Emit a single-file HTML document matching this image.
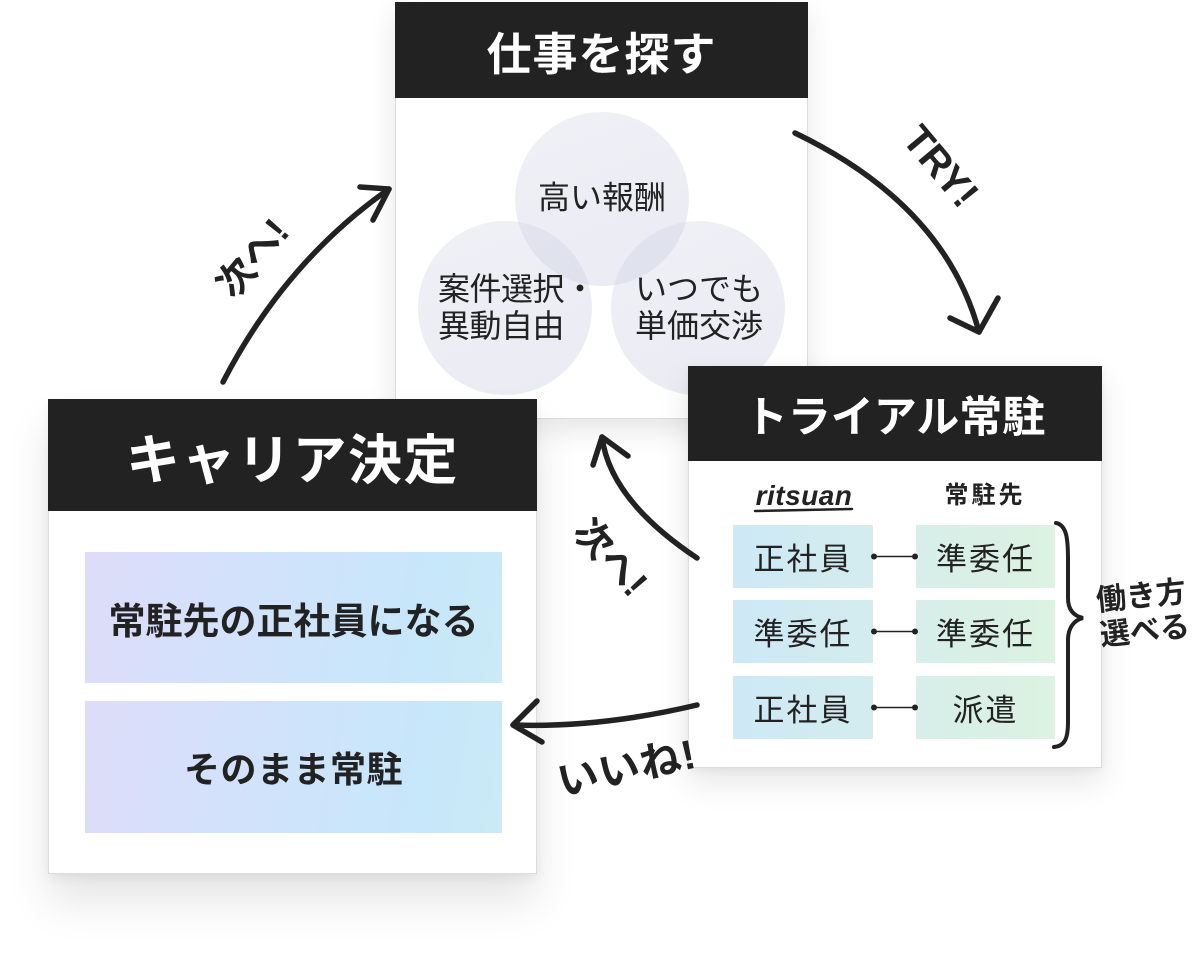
<!DOCTYPE html>
<html><head><meta charset="utf-8">
<style>
*{margin:0;padding:0;box-sizing:border-box}
body{width:1200px;height:958px;background:#fff;position:relative;overflow:hidden;font-family:"Liberation Sans","Noto Sans CJK JP",sans-serif;color:#222}
.a{position:absolute}
.card{position:absolute;background:#fff;border:1px solid #dcdcdc}
.hd{position:absolute;background:#222;color:#fff;font-weight:700;display:flex;align-items:center;justify-content:center;white-space:nowrap}
.circ{position:absolute;border-radius:50%;background:linear-gradient(160deg,rgba(200,203,224,.28),rgba(196,200,222,.36));}
.ct{position:absolute;transform:translate(-50%,-50%);font-size:32px;line-height:37px;text-align:center;white-space:nowrap;color:#222}
.tb{position:absolute;display:flex;align-items:center;justify-content:center;font-size:31px;letter-spacing:2px;white-space:nowrap}
.l{background:linear-gradient(90deg,#cde9f6,#d4ecee)}
.r{background:linear-gradient(90deg,#d7eeea,#dcf2e2)}
.cb{position:absolute;display:flex;align-items:center;justify-content:center;font-weight:700;font-size:36px;white-space:nowrap;background:linear-gradient(100deg,#dedcf9 0%,#d0e3fb 45%,#c7e7fa 80%,#cbeaf6 100%)}
.rt{position:absolute;transform:translate(-50%,-50%);font-weight:700;white-space:nowrap;color:#222}
</style></head><body>

<!-- top card -->
<div class="card" style="left:395px;top:2px;width:413px;height:417px;z-index:1;box-shadow:0 12px 26px rgba(0,0,0,.10)"></div>
<div class="hd" style="left:395px;top:2px;width:413px;height:96px;z-index:2;font-size:45px;letter-spacing:1px">仕事を探す</div>
<div class="circ" style="left:515px;top:112px;width:174px;height:174px;z-index:2"></div>
<div class="circ" style="left:418px;top:221px;width:174px;height:174px;z-index:2"></div>
<div class="circ" style="left:611px;top:221px;width:174px;height:174px;z-index:2"></div>
<div class="ct" style="left:602px;top:198px;z-index:3">高い報酬</div>
<div class="a" style="left:438px;top:271px;z-index:3;font-size:32px;line-height:37px;text-align:left;white-space:nowrap;letter-spacing:-0.5px">案件選択・<br>異動自由</div>
<div class="ct" style="left:699px;top:308px;z-index:3">いつでも<br>単価交渉</div>

<!-- career card -->
<div class="card" style="left:48px;top:399px;width:489px;height:475px;z-index:4;box-shadow:0 28px 40px rgba(0,0,0,.10),0 4px 10px rgba(0,0,0,.06)"></div>
<div class="hd" style="left:48px;top:399px;width:489px;height:112px;z-index:5;font-size:54px;letter-spacing:1.5px">キャリア決定</div>
<div class="cb" style="left:85px;top:552px;width:417px;height:131px;z-index:5;font-size:37px">常駐先の正社員になる</div>
<div class="cb" style="left:85px;top:701px;width:417px;height:132px;z-index:5;letter-spacing:0.5px">そのまま常駐</div>

<!-- trial card -->
<div class="card" style="left:688px;top:366px;width:414px;height:402px;z-index:4;box-shadow:0 14px 30px rgba(0,0,0,.10),0 2px 8px rgba(0,0,0,.05)"></div>
<div class="hd" style="left:688px;top:366px;width:414px;height:95px;z-index:5;font-size:43px">トライアル常駐</div>
<div class="a" style="left:752px;top:480px;width:104px;text-align:center;z-index:5;font-family:'Liberation Sans',sans-serif;font-weight:700;font-style:italic;font-size:28px;letter-spacing:0.5px;line-height:32px">ritsuan</div>
<div class="a" style="left:938px;top:482px;width:94px;text-align:center;z-index:5;font-weight:700;font-size:24px;letter-spacing:3px;line-height:28px">常駐先</div>

<div class="tb l" style="left:733px;top:525px;width:140px;height:63px;z-index:5">正社員</div>
<div class="tb l" style="left:733px;top:600px;width:140px;height:63px;z-index:5">準委任</div>
<div class="tb l" style="left:733px;top:676px;width:140px;height:63px;z-index:5">正社員</div>
<div class="tb r" style="left:916px;top:525px;width:139px;height:63px;z-index:5">準委任</div>
<div class="tb r" style="left:916px;top:600px;width:139px;height:63px;z-index:5">準委任</div>
<div class="tb r" style="left:916px;top:676px;width:139px;height:63px;z-index:5">派遣</div>

<div class="rt" style="left:1143px;top:614px;z-index:6;font-size:30px;line-height:35px;transform:translate(-50%,-50%) rotate(-6deg)">働き方<br>選べる</div>

<!-- labels -->
<div class="rt" style="left:250px;top:256px;z-index:6;font-size:38px;transform:translate(-50%,-50%) rotate(-50deg)">次へ!</div>
<div class="rt" style="left:940px;top:167px;z-index:6;font-size:40px;font-family:'Liberation Sans',sans-serif;transform:translate(-50%,-50%) rotate(50deg)">TRY!</div>
<div class="rt" style="left:613px;top:555px;z-index:6;font-size:38px;transform:translate(-50%,-50%) rotate(48deg)">次へ!</div>
<div class="rt" style="left:626px;top:764px;z-index:6;font-size:41px;letter-spacing:1px;transform:translate(-50%,-50%) rotate(-12deg)">いいね!</div>

<svg class="a" style="left:0;top:0;z-index:7" width="1200" height="958" viewBox="0 0 1200 958">
<g fill="none" stroke="#222" stroke-width="5.5" stroke-linecap="round" stroke-linejoin="round">
<path d="M223,382 Q285,262 389,189"/>
<path d="M360,187 L389,189 L373,220"/>
<path d="M795,133 Q945,205 979,332"/>
<path d="M950,318 L979,332 L998,298"/>
<path d="M697,558 Q610,500 602,437"/>
<path d="M593,465 L602,437 L628,456"/>
<path d="M697,705 Q600,728 513,725"/>
<path d="M537,701 L513,725 L542,742"/>
</g>
<path d="M1056,523 C1067,525 1068,540 1068,560 L1068,598 C1068,610 1074,616 1083,618 C1074,620 1068,628 1068,640 L1068,722 C1068,740 1064,746 1054,747" fill="none" stroke="#222" stroke-width="4" stroke-linecap="round"/>
<path d="M755,511 L852,509" stroke="#222" stroke-width="2.5" stroke-linecap="round"/>
<g stroke="#222" stroke-width="1.6"><line x1="874" y1="556.5" x2="915" y2="556.5"/><line x1="874" y1="631.5" x2="915" y2="631.5"/><line x1="874" y1="707.5" x2="915" y2="707.5"/></g>
<g fill="#222"><circle cx="874" cy="556.5" r="3"/><circle cx="915" cy="556.5" r="3"/><circle cx="874" cy="631.5" r="3"/><circle cx="915" cy="631.5" r="3"/><circle cx="874" cy="707.5" r="3"/><circle cx="915" cy="707.5" r="3"/></g>
</svg>
</body></html>
